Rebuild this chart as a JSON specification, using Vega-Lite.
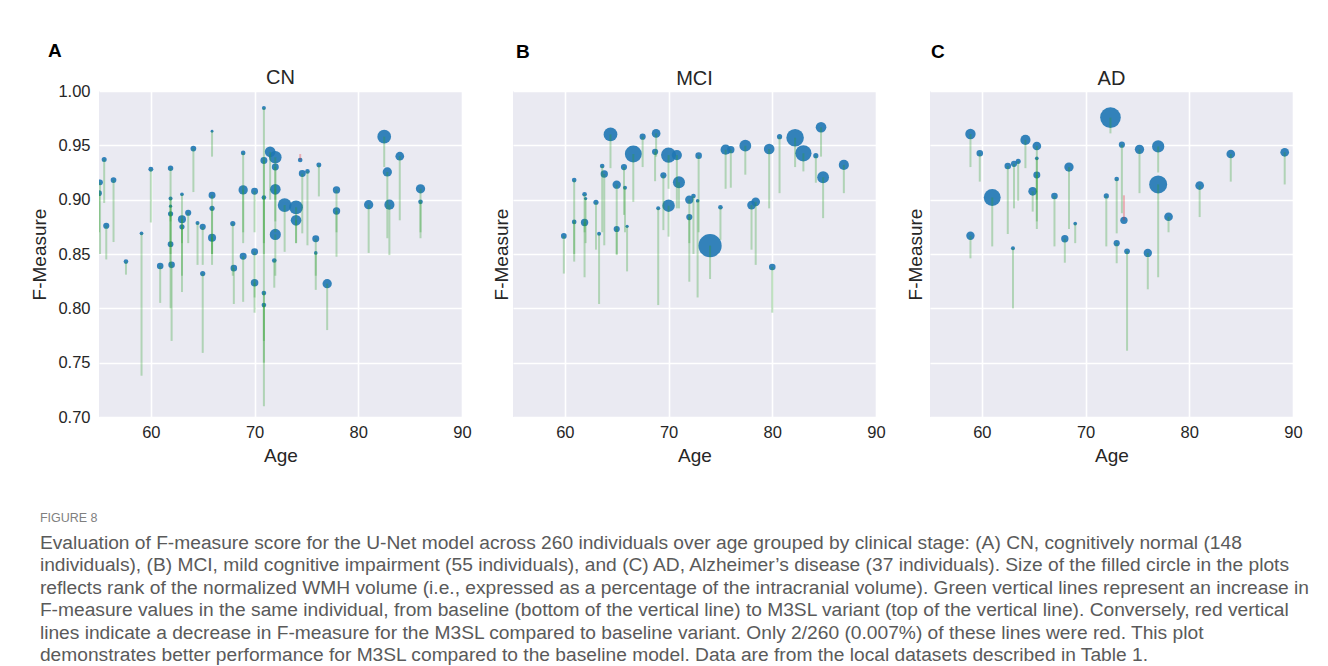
{
  "$schema": "https://vega.github.io/schema/vega-lite/v6.json",
  "background": "white",
  "autosize": {"type": "pad"},
  "padding": {"left": 30, "top": 42, "right": 10, "bottom": 0},
  "datasets": {
    "pts": [
      {"stage":"CN","age":55.1,"m3sl":0.916,"baseline":0.85,"wmh_rank":6},
      {"stage":"CN","age":55.0,"m3sl":0.906,"baseline":0.87,"wmh_rank":6},
      {"stage":"CN","age":55.5,"m3sl":0.937,"baseline":0.897,"wmh_rank":4.7},
      {"stage":"CN","age":56.4,"m3sl":0.918,"baseline":0.861,"wmh_rank":6},
      {"stage":"CN","age":55.7,"m3sl":0.876,"baseline":0.845,"wmh_rank":7},
      {"stage":"CN","age":59.1,"m3sl":0.869,"baseline":0.738,"wmh_rank":2.5},
      {"stage":"CN","age":60.0,"m3sl":0.928,"baseline":0.879,"wmh_rank":4.5},
      {"stage":"CN","age":61.9,"m3sl":0.929,"baseline":0.88,"wmh_rank":5.5},
      {"stage":"CN","age":61.9,"m3sl":0.901,"baseline":0.86,"wmh_rank":3},
      {"stage":"CN","age":61.9,"m3sl":0.894,"baseline":0.85,"wmh_rank":2},
      {"stage":"CN","age":61.9,"m3sl":0.887,"baseline":0.84,"wmh_rank":5},
      {"stage":"CN","age":61.9,"m3sl":0.859,"baseline":0.80,"wmh_rank":6},
      {"stage":"CN","age":62.0,"m3sl":0.840,"baseline":0.770,"wmh_rank":8},
      {"stage":"CN","age":63.0,"m3sl":0.882,"baseline":0.83,"wmh_rank":12},
      {"stage":"CN","age":63.0,"m3sl":0.905,"baseline":0.86,"wmh_rank":2.5},
      {"stage":"CN","age":63.0,"m3sl":0.875,"baseline":0.815,"wmh_rank":5},
      {"stage":"CN","age":63.6,"m3sl":0.888,"baseline":0.860,"wmh_rank":7},
      {"stage":"CN","age":64.5,"m3sl":0.8785,"baseline":0.84,"wmh_rank":3},
      {"stage":"CN","age":65.0,"m3sl":0.875,"baseline":0.84,"wmh_rank":7},
      {"stage":"CN","age":64.1,"m3sl":0.947,"baseline":0.907,"wmh_rank":6},
      {"stage":"CN","age":65.9,"m3sl":0.963,"baseline":0.9396,"wmh_rank":1.5},
      {"stage":"CN","age":65.9,"m3sl":0.904,"baseline":0.85,"wmh_rank":9},
      {"stage":"CN","age":65.9,"m3sl":0.892,"baseline":0.85,"wmh_rank":5},
      {"stage":"CN","age":65.9,"m3sl":0.865,"baseline":0.84,"wmh_rank":12},
      {"stage":"CN","age":67.9,"m3sl":0.878,"baseline":0.83,"wmh_rank":5},
      {"stage":"CN","age":68.9,"m3sl":0.943,"baseline":0.86,"wmh_rank":4},
      {"stage":"CN","age":68.9,"m3sl":0.909,"baseline":0.87,"wmh_rank":16},
      {"stage":"CN","age":68.9,"m3sl":0.848,"baseline":0.806,"wmh_rank":9},
      {"stage":"CN","age":70.0,"m3sl":0.9077,"baseline":0.87,"wmh_rank":9},
      {"stage":"CN","age":70.0,"m3sl":0.852,"baseline":0.81,"wmh_rank":9},
      {"stage":"CN","age":70.0,"m3sl":0.8236,"baseline":0.796,"wmh_rank":10.5},
      {"stage":"CN","age":70.9,"m3sl":0.9844,"baseline":0.71,"wmh_rank":3},
      {"stage":"CN","age":70.9,"m3sl":0.936,"baseline":0.86,"wmh_rank":9},
      {"stage":"CN","age":70.9,"m3sl":0.902,"baseline":0.85,"wmh_rank":4},
      {"stage":"CN","age":70.9,"m3sl":0.814,"baseline":0.77,"wmh_rank":4},
      {"stage":"CN","age":70.9,"m3sl":0.803,"baseline":0.75,"wmh_rank":4},
      {"stage":"CN","age":71.5,"m3sl":0.944,"baseline":0.90,"wmh_rank":21},
      {"stage":"CN","age":72.0,"m3sl":0.939,"baseline":0.90,"wmh_rank":29},
      {"stage":"CN","age":72.0,"m3sl":0.930,"baseline":0.88,"wmh_rank":9},
      {"stage":"CN","age":72.0,"m3sl":0.9095,"baseline":0.87,"wmh_rank":21},
      {"stage":"CN","age":72.0,"m3sl":0.868,"baseline":0.83,"wmh_rank":23},
      {"stage":"CN","age":72.9,"m3sl":0.895,"baseline":0.852,"wmh_rank":35},
      {"stage":"CN","age":74.0,"m3sl":0.893,"baseline":0.86,"wmh_rank":35},
      {"stage":"CN","age":74.0,"m3sl":0.881,"baseline":0.860,"wmh_rank":21},
      {"stage":"CN","age":74.4,"m3sl":0.9365,"baseline":0.942,"wmh_rank":4},
      {"stage":"CN","age":74.6,"m3sl":0.924,"baseline":0.869,"wmh_rank":9},
      {"stage":"CN","age":75.1,"m3sl":0.926,"baseline":0.858,"wmh_rank":4},
      {"stage":"CN","age":76.2,"m3sl":0.932,"baseline":0.903,"wmh_rank":4.6},
      {"stage":"CN","age":75.9,"m3sl":0.864,"baseline":0.83,"wmh_rank":9},
      {"stage":"CN","age":75.9,"m3sl":0.851,"baseline":0.817,"wmh_rank":2.5},
      {"stage":"CN","age":77.9,"m3sl":0.909,"baseline":0.87,"wmh_rank":10},
      {"stage":"CN","age":77.9,"m3sl":0.8896,"baseline":0.8475,"wmh_rank":10},
      {"stage":"CN","age":77.0,"m3sl":0.8227,"baseline":0.780,"wmh_rank":16},
      {"stage":"CN","age":81.0,"m3sl":0.8954,"baseline":0.851,"wmh_rank":16},
      {"stage":"CN","age":82.5,"m3sl":0.958,"baseline":0.930,"wmh_rank":35},
      {"stage":"CN","age":82.8,"m3sl":0.9255,"baseline":0.8645,"wmh_rank":16},
      {"stage":"CN","age":83.0,"m3sl":0.8954,"baseline":0.849,"wmh_rank":19},
      {"stage":"CN","age":84.0,"m3sl":0.940,"baseline":0.881,"wmh_rank":14},
      {"stage":"CN","age":86.0,"m3sl":0.910,"baseline":0.87,"wmh_rank":16},
      {"stage":"CN","age":86.0,"m3sl":0.898,"baseline":0.8645,"wmh_rank":4},
      {"stage":"CN","age":57.6,"m3sl":0.843,"baseline":0.831,"wmh_rank":4},
      {"stage":"CN","age":60.9,"m3sl":0.839,"baseline":0.805,"wmh_rank":8},
      {"stage":"CN","age":65.0,"m3sl":0.832,"baseline":0.759,"wmh_rank":5},
      {"stage":"CN","age":68.0,"m3sl":0.837,"baseline":0.804,"wmh_rank":8},
      {"stage":"CN","age":71.9,"m3sl":0.844,"baseline":0.819,"wmh_rank":4},

      {"stage":"MCI","age":59.9,"m3sl":0.8666,"baseline":0.832,"wmh_rank":6},
      {"stage":"MCI","age":60.9,"m3sl":0.918,"baseline":0.843,"wmh_rank":4},
      {"stage":"MCI","age":60.9,"m3sl":0.8795,"baseline":0.85,"wmh_rank":4},
      {"stage":"MCI","age":61.9,"m3sl":0.879,"baseline":0.8286,"wmh_rank":10},
      {"stage":"MCI","age":61.9,"m3sl":0.905,"baseline":0.87,"wmh_rank":4},
      {"stage":"MCI","age":62.0,"m3sl":0.901,"baseline":0.86,"wmh_rank":2},
      {"stage":"MCI","age":63.0,"m3sl":0.8976,"baseline":0.854,"wmh_rank":5},
      {"stage":"MCI","age":63.3,"m3sl":0.8687,"baseline":0.804,"wmh_rank":3},
      {"stage":"MCI","age":63.6,"m3sl":0.931,"baseline":0.87,"wmh_rank":4},
      {"stage":"MCI","age":63.8,"m3sl":0.9236,"baseline":0.858,"wmh_rank":10},
      {"stage":"MCI","age":64.4,"m3sl":0.960,"baseline":0.929,"wmh_rank":35},
      {"stage":"MCI","age":65.0,"m3sl":0.9138,"baseline":0.849,"wmh_rank":13},
      {"stage":"MCI","age":65.0,"m3sl":0.873,"baseline":0.85,"wmh_rank":7},
      {"stage":"MCI","age":65.8,"m3sl":0.911,"baseline":0.87,"wmh_rank":3},
      {"stage":"MCI","age":65.7,"m3sl":0.930,"baseline":0.886,"wmh_rank":7},
      {"stage":"MCI","age":66.0,"m3sl":0.8755,"baseline":0.834,"wmh_rank":2},
      {"stage":"MCI","age":66.6,"m3sl":0.942,"baseline":0.898,"wmh_rank":53},
      {"stage":"MCI","age":67.5,"m3sl":0.958,"baseline":0.93,"wmh_rank":7},
      {"stage":"MCI","age":68.8,"m3sl":0.961,"baseline":0.9396,"wmh_rank":14},
      {"stage":"MCI","age":68.7,"m3sl":0.944,"baseline":0.917,"wmh_rank":7},
      {"stage":"MCI","age":69.5,"m3sl":0.9224,"baseline":0.872,"wmh_rank":7},
      {"stage":"MCI","age":69.0,"m3sl":0.892,"baseline":0.803,"wmh_rank":3},
      {"stage":"MCI","age":70.0,"m3sl":0.8945,"baseline":0.866,"wmh_rank":29},
      {"stage":"MCI","age":70.0,"m3sl":0.941,"baseline":0.91,"wmh_rank":42},
      {"stage":"MCI","age":70.8,"m3sl":0.941,"baseline":0.892,"wmh_rank":19},
      {"stage":"MCI","age":71.0,"m3sl":0.916,"baseline":0.892,"wmh_rank":27},
      {"stage":"MCI","age":72.0,"m3sl":0.884,"baseline":0.8245,"wmh_rank":7},
      {"stage":"MCI","age":72.0,"m3sl":0.900,"baseline":0.86,"wmh_rank":13},
      {"stage":"MCI","age":72.4,"m3sl":0.9034,"baseline":0.85,"wmh_rank":4},
      {"stage":"MCI","age":72.9,"m3sl":0.9405,"baseline":0.87,"wmh_rank":8},
      {"stage":"MCI","age":72.8,"m3sl":0.899,"baseline":0.810,"wmh_rank":2.5},
      {"stage":"MCI","age":74.0,"m3sl":0.8577,"baseline":0.827,"wmh_rank":100},
      {"stage":"MCI","age":75.0,"m3sl":0.893,"baseline":0.863,"wmh_rank":4},
      {"stage":"MCI","age":75.5,"m3sl":0.946,"baseline":0.910,"wmh_rank":19},
      {"stage":"MCI","age":76.0,"m3sl":0.946,"baseline":0.911,"wmh_rank":10},
      {"stage":"MCI","age":77.4,"m3sl":0.9497,"baseline":0.923,"wmh_rank":26},
      {"stage":"MCI","age":78.0,"m3sl":0.895,"baseline":0.854,"wmh_rank":14},
      {"stage":"MCI","age":78.4,"m3sl":0.898,"baseline":0.840,"wmh_rank":14},
      {"stage":"MCI","age":79.7,"m3sl":0.9466,"baseline":0.892,"wmh_rank":21},
      {"stage":"MCI","age":80.0,"m3sl":0.838,"baseline":0.796,"wmh_rank":8},
      {"stage":"MCI","age":80.7,"m3sl":0.958,"baseline":0.906,"wmh_rank":5},
      {"stage":"MCI","age":82.2,"m3sl":0.957,"baseline":0.93,"wmh_rank":57},
      {"stage":"MCI","age":83.0,"m3sl":0.9427,"baseline":0.926,"wmh_rank":49},
      {"stage":"MCI","age":84.2,"m3sl":0.9405,"baseline":0.9156,"wmh_rank":5},
      {"stage":"MCI","age":84.7,"m3sl":0.9666,"baseline":0.9396,"wmh_rank":21},
      {"stage":"MCI","age":84.9,"m3sl":0.9206,"baseline":0.883,"wmh_rank":26},
      {"stage":"MCI","age":86.9,"m3sl":0.932,"baseline":0.906,"wmh_rank":19},

      {"stage":"AD","age":58.9,"m3sl":0.9604,"baseline":0.930,"wmh_rank":20},
      {"stage":"AD","age":59.8,"m3sl":0.9427,"baseline":0.9166,"wmh_rank":8},
      {"stage":"AD","age":58.9,"m3sl":0.8668,"baseline":0.846,"wmh_rank":13},
      {"stage":"AD","age":61.0,"m3sl":0.902,"baseline":0.857,"wmh_rank":53},
      {"stage":"AD","age":62.5,"m3sl":0.931,"baseline":0.8684,"wmh_rank":8},
      {"stage":"AD","age":63.1,"m3sl":0.933,"baseline":0.892,"wmh_rank":7},
      {"stage":"AD","age":63.5,"m3sl":0.9353,"baseline":0.899,"wmh_rank":5},
      {"stage":"AD","age":63.0,"m3sl":0.8553,"baseline":0.800,"wmh_rank":3},
      {"stage":"AD","age":64.2,"m3sl":0.955,"baseline":0.929,"wmh_rank":19},
      {"stage":"AD","age":65.3,"m3sl":0.9494,"baseline":0.90,"wmh_rank":14},
      {"stage":"AD","age":65.3,"m3sl":0.938,"baseline":0.88,"wmh_rank":2.5},
      {"stage":"AD","age":65.3,"m3sl":0.9227,"baseline":0.873,"wmh_rank":9},
      {"stage":"AD","age":64.9,"m3sl":0.9077,"baseline":0.889,"wmh_rank":14},
      {"stage":"AD","age":67.0,"m3sl":0.9034,"baseline":0.857,"wmh_rank":8},
      {"stage":"AD","age":68.4,"m3sl":0.930,"baseline":0.873,"wmh_rank":16},
      {"stage":"AD","age":68.0,"m3sl":0.864,"baseline":0.842,"wmh_rank":10},
      {"stage":"AD","age":69.0,"m3sl":0.878,"baseline":0.860,"wmh_rank":2.5},
      {"stage":"AD","age":72.0,"m3sl":0.9034,"baseline":0.857,"wmh_rank":5},
      {"stage":"AD","age":72.4,"m3sl":0.9755,"baseline":0.961,"wmh_rank":79},
      {"stage":"AD","age":73.5,"m3sl":0.9506,"baseline":0.8875,"wmh_rank":7},
      {"stage":"AD","age":73.0,"m3sl":0.919,"baseline":0.869,"wmh_rank":4},
      {"stage":"AD","age":73.7,"m3sl":0.881,"baseline":0.904,"wmh_rank":10},
      {"stage":"AD","age":73.0,"m3sl":0.860,"baseline":0.8415,"wmh_rank":7},
      {"stage":"AD","age":74.0,"m3sl":0.8525,"baseline":0.761,"wmh_rank":6},
      {"stage":"AD","age":75.2,"m3sl":0.9463,"baseline":0.906,"wmh_rank":16},
      {"stage":"AD","age":77.0,"m3sl":0.949,"baseline":0.925,"wmh_rank":28},
      {"stage":"AD","age":77.0,"m3sl":0.914,"baseline":0.8286,"wmh_rank":60},
      {"stage":"AD","age":78.0,"m3sl":0.8843,"baseline":0.87,"wmh_rank":14},
      {"stage":"AD","age":76.0,"m3sl":0.851,"baseline":0.8175,"wmh_rank":13},
      {"stage":"AD","age":81.0,"m3sl":0.913,"baseline":0.884,"wmh_rank":14},
      {"stage":"AD","age":84.0,"m3sl":0.942,"baseline":0.9166,"wmh_rank":14},
      {"stage":"AD","age":89.2,"m3sl":0.9436,"baseline":0.914,"wmh_rank":14}
    ]
  },
  "data": {"name": "pts"},
  "title": {
    "text": "FIGURE 8",
    "subtitle": [
      "Evaluation of F-measure score for the U-Net model across 260 individuals over age grouped by clinical stage: (A) CN, cognitively normal (148",
      "individuals), (B) MCI, mild cognitive impairment (55 individuals), and (C) AD, Alzheimer’s disease (37 individuals). Size of the filled circle in the plots",
      "reflects rank of the normalized WMH volume (i.e., expressed as a percentage of the intracranial volume). Green vertical lines represent an increase in",
      "F-measure values in the same individual, from baseline (bottom of the vertical line) to M3SL variant (top of the vertical line). Conversely, red vertical",
      "lines indicate a decrease in F-measure for the M3SL compared to baseline variant. Only 2/260 (0.007%) of these lines were red. This plot",
      "demonstrates better performance for M3SL compared to the baseline model. Data are from the local datasets described in Table 1."
    ],
    "orient": "bottom",
    "anchor": "start",
    "frame": "bounds",
    "font": "Liberation Sans",
    "fontSize": 12.5,
    "fontWeight": "normal",
    "color": "#7f7f7f",
    "subtitleFont": "Liberation Sans",
    "subtitleFontSize": 19.2,
    "subtitleColor": "#5a5a5a",
    "subtitleLineHeight": 22.4,
    "subtitlePadding": 10,
    "offset": 46,
    "dx": 9
  },
  "spacing": 20,
  "hconcat": [
    {
      "title": {"text": "A", "anchor": "start", "frame": "group", "dx": -51, "fontSize": 19, "fontWeight": "bold", "font": "Liberation Sans", "color": "black", "offset": 7},
      "vconcat": [
        {
          "title": {"text": "CN", "anchor": "middle", "fontSize": 20, "fontWeight": "normal", "font": "Liberation Sans", "color": "#262626", "offset": -5},
          "width": 363,
          "height": 326,
          "transform": [{"filter": "datum.stage === 'CN'"}],
          "encoding": {
            "x": {"field": "age", "type": "quantitative", "scale": {"domain": [55, 90], "nice": false, "zero": false}, "axis": {"values": [60, 70, 80, 90], "title": "Age", "labelFlush": false}},
            "y": {"field": "m3sl", "type": "quantitative", "scale": {"domain": [0.7, 1.0], "nice": false, "zero": false}, "axis": {"values": [0.7, 0.75, 0.8, 0.85, 0.9, 0.95, 1.0], "format": ".2f", "title": "F-Measure", "labelFlush": false, "labelPadding": 9}}
          },
          "layer": [
            {"mark": {"type": "point", "filled": true, "color": "#1f77b4", "opacity": 0.9, "clip": true},
             "encoding": {"size": {"field": "wmh_rank", "type": "quantitative", "scale": {"type": "linear", "domain": [0, 100], "range": [0, 540]}, "legend": null}}},
            {"mark": {"type": "rule", "strokeWidth": 2, "opacity": 0.3, "clip": true},
             "encoding": {"y2": {"field": "baseline"}, "color": {"condition": {"test": "datum.baseline > datum.m3sl", "value": "#e3242b"}, "value": "#2ca02c"}}}
          ]
        }
      ]
    },
    {
      "title": {"text": "B", "anchor": "start", "frame": "group", "dx": 3, "fontSize": 19, "fontWeight": "bold", "font": "Liberation Sans", "color": "black", "offset": 7},
      "vconcat": [
        {
          "title": {"text": "MCI", "anchor": "middle", "fontSize": 20, "fontWeight": "normal", "font": "Liberation Sans", "color": "#262626", "offset": 2},
          "width": 363,
          "height": 326,
          "transform": [{"filter": "datum.stage === 'MCI'"}],
          "encoding": {
            "x": {"field": "age", "type": "quantitative", "scale": {"domain": [55, 90], "nice": false, "zero": false}, "axis": {"values": [60, 70, 80, 90], "title": "Age", "labelFlush": false}},
            "y": {"field": "m3sl", "type": "quantitative", "scale": {"domain": [0.7, 1.0], "nice": false, "zero": false}, "axis": {"values": [0.7, 0.75, 0.8, 0.85, 0.9, 0.95, 1.0], "labels": false, "title": "F-Measure", "titlePadding": 2}}
          },
          "layer": [
            {"mark": {"type": "point", "filled": true, "color": "#1f77b4", "opacity": 0.9, "clip": true},
             "encoding": {"size": {"field": "wmh_rank", "type": "quantitative", "scale": {"type": "linear", "domain": [0, 100], "range": [0, 540]}, "legend": null}}},
            {"mark": {"type": "rule", "strokeWidth": 2, "opacity": 0.3, "clip": true},
             "encoding": {"y2": {"field": "baseline"}, "color": {"condition": {"test": "datum.baseline > datum.m3sl", "value": "#e3242b"}, "value": "#2ca02c"}}}
          ]
        }
      ]
    },
    {
      "title": {"text": "C", "anchor": "start", "frame": "group", "dx": 1, "fontSize": 19, "fontWeight": "bold", "font": "Liberation Sans", "color": "black", "offset": 7},
      "vconcat": [
        {
          "title": {"text": "AD", "anchor": "middle", "fontSize": 20, "fontWeight": "normal", "font": "Liberation Sans", "color": "#262626", "offset": 2},
          "width": 363,
          "height": 326,
          "transform": [{"filter": "datum.stage === 'AD'"}],
          "encoding": {
            "x": {"field": "age", "type": "quantitative", "scale": {"domain": [55, 90], "nice": false, "zero": false}, "axis": {"values": [60, 70, 80, 90], "title": "Age", "labelFlush": false}},
            "y": {"field": "m3sl", "type": "quantitative", "scale": {"domain": [0.7, 1.0], "nice": false, "zero": false}, "axis": {"values": [0.7, 0.75, 0.8, 0.85, 0.9, 0.95, 1.0], "labels": false, "title": "F-Measure", "titlePadding": 5}}
          },
          "layer": [
            {"mark": {"type": "point", "filled": true, "color": "#1f77b4", "opacity": 0.9, "clip": true},
             "encoding": {"size": {"field": "wmh_rank", "type": "quantitative", "scale": {"type": "linear", "domain": [0, 100], "range": [0, 540]}, "legend": null}}},
            {"mark": {"type": "rule", "strokeWidth": 2, "opacity": 0.3, "clip": true},
             "encoding": {"y2": {"field": "baseline"}, "color": {"condition": {"test": "datum.baseline > datum.m3sl", "value": "#e3242b"}, "value": "#2ca02c"}}}
          ]
        }
      ]
    }
  ],
  "config": {
    "view": {"fill": "#EAEAF2", "stroke": null},
    "axis": {
      "grid": true, "gridColor": "#ffffff", "gridWidth": 1.6, "domain": false, "ticks": false,
      "labelFont": "Liberation Sans", "labelFontSize": 16.5, "labelColor": "#262626", "labelPadding": 7,
      "titleFont": "Liberation Sans", "titleFontSize": 19, "titleFontWeight": "normal", "titleColor": "#262626"
    },
    "axisX": {"titlePadding": 6},
    "axisY": {"titlePadding": 8}
  }
}
